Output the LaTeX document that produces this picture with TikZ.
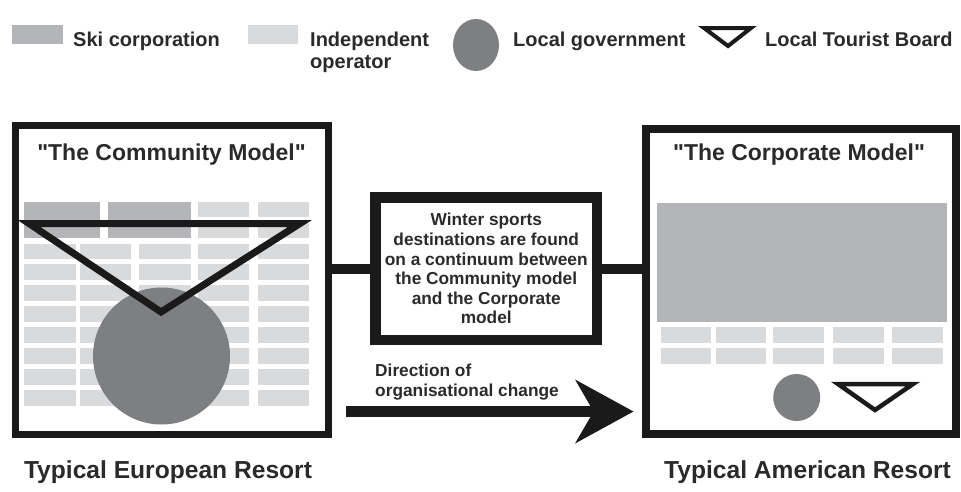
\documentclass[tikz,border=0pt]{standalone}
\usepackage{fontspec}
\setmainfont{Liberation Sans}
\newfontfamily\plainquotes{Liberation Sans}
\definecolor{skigray}{HTML}{B4B5B8}
\definecolor{indgray}{HTML}{D9DADC}
\definecolor{govgray}{HTML}{7E7F82}
\definecolor{ink}{HTML}{1A1A1A}
\definecolor{textgray}{HTML}{2A2A2A}
\tikzset{
  modelbox/.style={draw=ink, line width=7pt, inner sep=0pt, outer sep=0pt},
  midbox/.style={draw=ink, line width=10.5pt, inner sep=0pt, outer sep=0pt, align=center,
    text=textgray, font=\fontsize{17.3}{19.6}\selectfont\bfseries},
  link/.style={draw=ink, line width=9.5pt},
  legend/.style={text=textgray, inner sep=0pt, font=\fontsize{20}{22.5}\selectfont\bfseries},
  title/.style={text=textgray, inner sep=0pt, font=\plainquotes\fontsize{23}{26}\selectfont\bfseries},
  caption/.style={text=textgray, inner sep=0pt, font=\fontsize{24.6}{28}\selectfont\bfseries},
  midtext/.style={text=textgray, inner sep=0pt, font=\fontsize{17.3}{19.2}\selectfont\bfseries}
}
\begin{document}
\begin{tikzpicture}[x=1pt,y=-1pt,join=miter] % pixel grid, y down
  \useasboundingbox (0,0) rectangle (961,491);
  % legend
  \fill[skigray] (12,25) rectangle (63,44);
  \node[legend, anchor=base west] (skilabel) at (73,46) {Ski corporation};
  \fill[indgray] (248,25) rectangle (298,44);
  \node[legend, anchor=base west, align=left] (indlabel) at (310,68.5) {Independent\\operator};
  \fill[govgray] (476,45) ellipse (23 and 26);
  \node[legend, anchor=base west] (govlabel) at (513,46) {Local government};
  \draw[ink, line width=4pt] (704,28) -- (751,28) -- (728,46) -- cycle;
  \node[legend, anchor=base west] (boardlabel) at (765,46) {Local Tourist Board};
  % the three boxes
  \node[modelbox, minimum width=312.5pt, minimum height=309pt] (community) at (171.75,280) {};
  \node[modelbox, line width=8pt, minimum width=310pt, minimum height=305pt] (corporate) at (801,281.5) {};
  \node[midbox, minimum width=221.5pt, minimum height=142.5pt] (continuum) at (486.25,268.75)
    {Winter sports\\destinations are found\\on a continuum between\\the Community model\\and the Corporate\\model};
  \draw[link] (community.east |- continuum.west) -- (continuum.west);
  \draw[link] (continuum.east) -- (corporate.west |- continuum.east);
  \node[title, anchor=base] (commtitle) at (171.5,160) {"The Community Model"};
  \node[title, anchor=base] (corptitle) at (799,160) {"The Corporate Model"};
  % community model: small operators, two ski corporations
  \foreach \x/\w in {24/52,80/51,139/52,198/51,258/51}
    \foreach \i in {2,...,9}
      \fill[indgray] (\x,{201.7+20.9*\i}) rectangle ++(\w,15.7);
  \foreach \x in {198,258}
    \foreach \i in {0,1}
      \fill[indgray] (\x,{201.7+20.9*\i}) rectangle ++(51,15.7);
  \fill[skigray] (24,201.7) rectangle (100,238.3);
  \fill[skigray] (108,201.7) rectangle (191,238.3);
  \fill[govgray] (161.5,356) circle (68.5);
  \draw[ink, line width=7pt] (29,223.5) -- (300,223.5) -- (161,312) -- cycle;
  % corporate model
  \fill[skigray] (657,203) rectangle (947,322);
  \foreach \x/\w in {660.7/50.3,715.7/50.3,773/51,833/51,891.7/51.3}
    \foreach \y in {327,348}
      \fill[indgray] (\x,\y) rectangle ++(\w,16);
  \fill[govgray] (796.7,397.5) circle (23.5);
  \draw[ink, line width=4.5pt] (838,384) -- (913,384) -- (875,410) -- cycle;
  % direction of change
  \node[midtext, anchor=base west, align=left] (changelabel) at (375,396) {Direction of\\organisational change};
  \coordinate (tail) at (346,411.5);
  \coordinate (tip) at (633.5,411.5);
  \fill[ink] ([yshift=5.3pt]tail) -- ([shift={(-43,-5.3)}]tip) -- ([shift={(-58.5,-32)}]tip) -- (tip)
    -- ([shift={(-58.5,32)}]tip) -- ([shift={(-43,5.3)}]tip) -- ([yshift=-5.3pt]tail) -- cycle;
  \node[caption, anchor=base] (eurolabel) at (168,478) {Typical European Resort};
  \node[caption, anchor=base] (amlabel) at (807.5,478) {Typical American Resort};
\end{tikzpicture}
\end{document}
